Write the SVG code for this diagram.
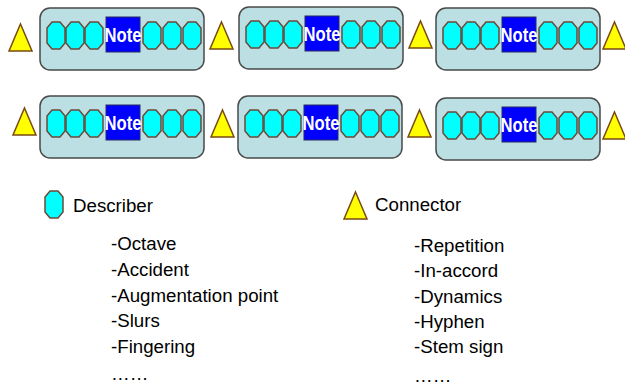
<svg xmlns="http://www.w3.org/2000/svg" xmlns:xlink="http://www.w3.org/1999/xlink" width="625" height="389" viewBox="0 0 625 389">
<style>
.box{fill:#BBDFE2;stroke:#4a4a4a;stroke-width:1.5}
.oct{fill:#00FFFF;stroke:#6b4a3a;stroke-width:1.5}
.tri{fill:#FFFF00;stroke:#7a4a10;stroke-width:1.5}
.note{fill:#0000FF;stroke:#2a2a60;stroke-width:1}
.nt{font-family:"Liberation Sans",Arial,sans-serif;font-weight:bold;font-size:20px;fill:#fff;text-anchor:middle}
.lg{font-family:"Liberation Sans",Arial,sans-serif;font-size:18.7px;fill:#000}
</style>
<defs>
<polygon id="o" class="oct" points="5,0 13,0 18,6 18,21 13,27 5,27 0,21 0,6"/>
<polygon id="t" class="tri" points="11.5,0 23,27 0,27"/>
<g id="unit">
<rect class="box" x="0" y="0" width="164" height="62" rx="10"/>
<use xlink:href="#o" x="7" y="14"/>
<use xlink:href="#o" x="26" y="14"/>
<use xlink:href="#o" x="45" y="14"/>
<rect class="note" x="66" y="9" width="34" height="35"/>
<use xlink:href="#o" x="103" y="14"/>
<use xlink:href="#o" x="123" y="14"/>
<use xlink:href="#o" x="143" y="14"/>
<text class="nt" x="83" y="34" textLength="37" lengthAdjust="spacingAndGlyphs">Note</text>
</g>
</defs>
<rect width="625" height="389" fill="#fff"/>
<g id="node-r1-1"><use xlink:href="#unit" x="40" y="8"/></g>
<g id="node-r1-2"><use xlink:href="#unit" x="239" y="7"/></g>
<g id="node-r1-3"><use xlink:href="#unit" x="436" y="8"/></g>
<g id="node-r2-1"><use xlink:href="#unit" x="40" y="96"/></g>
<g id="node-r2-2"><use xlink:href="#unit" x="238" y="96"/></g>
<g id="node-r2-3"><use xlink:href="#unit" x="436" y="98"/></g>
<g id="connectors">
<use xlink:href="#t" x="9" y="24"/>
<use xlink:href="#t" x="210" y="22"/>
<use xlink:href="#t" x="409" y="21"/>
<use xlink:href="#t" x="603" y="22"/>
<use xlink:href="#t" x="13" y="108"/>
<use xlink:href="#t" x="211" y="110"/>
<use xlink:href="#t" x="408" y="110"/>
<use xlink:href="#t" x="603" y="112"/>
</g>
<g id="legend-describer">
<use xlink:href="#o" x="45" y="191"/>
<text class="lg" x="73" y="212">Describer</text>
<text class="lg" x="111" y="250">-Octave</text>
<text class="lg" x="111" y="276">-Accident</text>
<text class="lg" x="111" y="302">-Augmentation point</text>
<text class="lg" x="111" y="327">-Slurs</text>
<text class="lg" x="111" y="353">-Fingering</text>
<text class="lg" x="111" y="380">……</text>
</g>
<g id="legend-connector">
<use xlink:href="#t" x="344" y="192"/>
<text class="lg" x="375" y="211">Connector</text>
<text class="lg" x="414" y="252">-Repetition</text>
<text class="lg" x="414" y="277">-In-accord</text>
<text class="lg" x="414" y="303">-Dynamics</text>
<text class="lg" x="414" y="328">-Hyphen</text>
<text class="lg" x="414" y="353">-Stem sign</text>
<text class="lg" x="414" y="382">……</text>
</g>
</svg>
